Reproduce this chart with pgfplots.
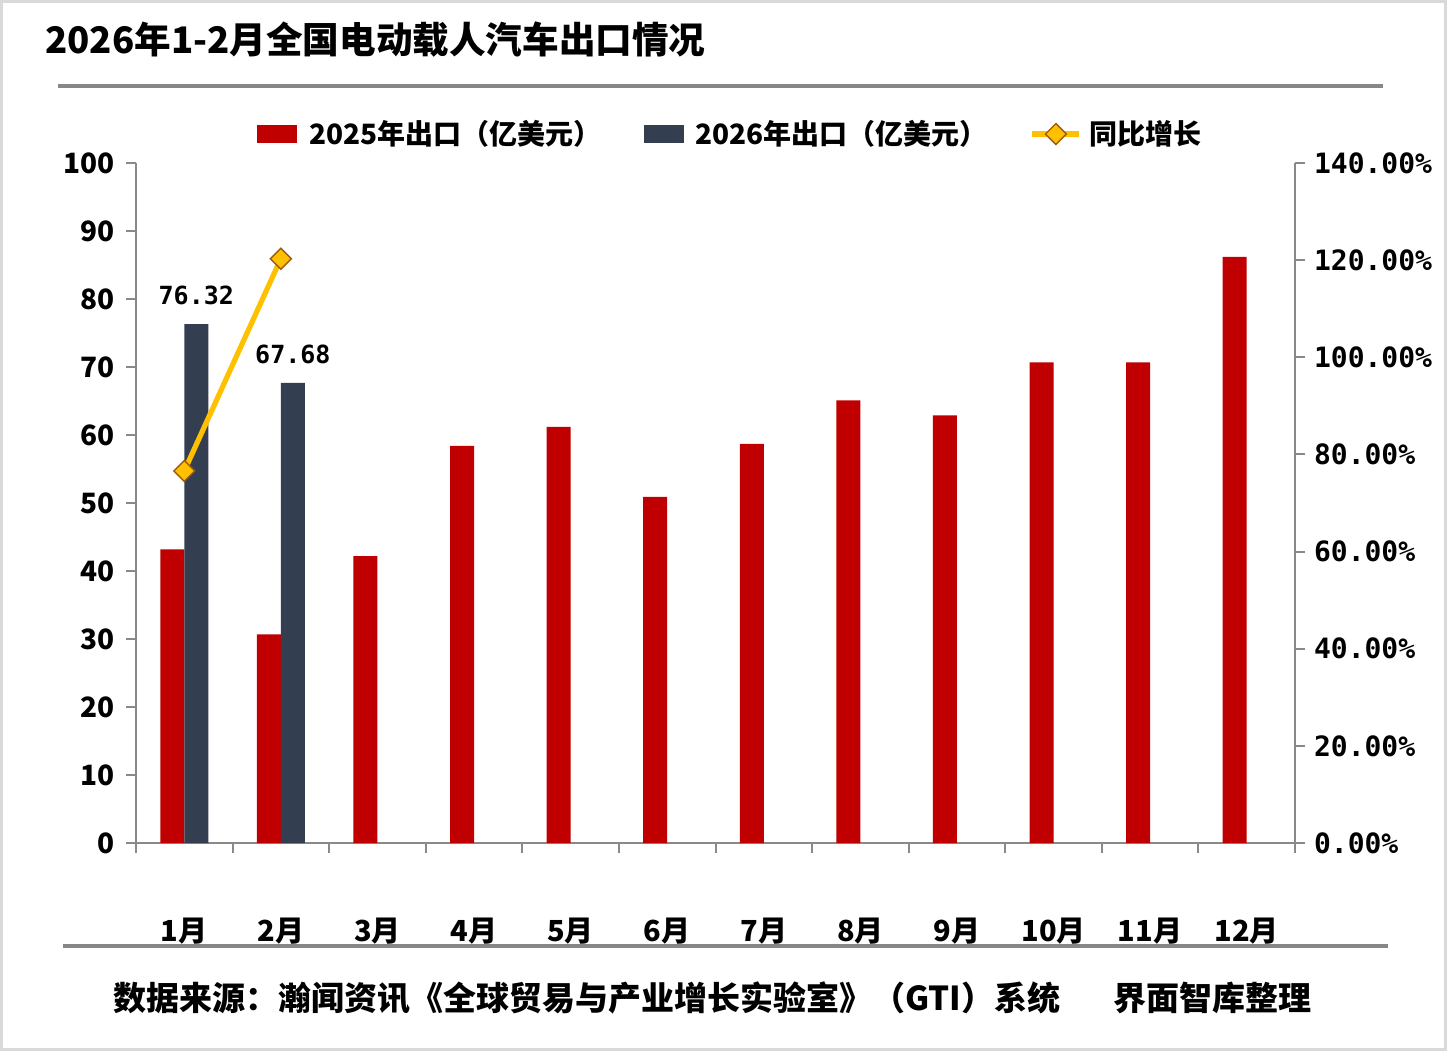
\documentclass[border=0pt]{standalone}
\usepackage{fontspec}
\setmainfont{Noto Sans CJK SC}
\newfontfamily\monofont{DejaVu Sans Mono}
\usepackage{pgfplots}
\usepackage{pgfplotstable}
\pgfplotsset{compat=1.18}

\definecolor{barred}{HTML}{C00000}
\definecolor{barnavy}{HTML}{333F50}
\definecolor{lineyel}{HTML}{FFC000}
\definecolor{mkbrown}{HTML}{9C5A0C}
\definecolor{axgrey}{HTML}{898989}
\definecolor{rulegrey}{HTML}{878787}
\definecolor{framegrey}{HTML}{D9D9D9}

\tikzset{
  yoyline/.style={lineyel, line width=2.6pt, mark=square*, mark size=3.7pt,
    mark options={rotate=45, fill=lineyel, draw=mkbrown, line width=0.7pt}},
}

% 2025 monthly exports (100m USD)
\pgfplotstableread{
m y25
1 43.2
2 30.7
3 42.2
4 58.4
5 61.2
6 50.9
7 58.7
8 65.1
9 62.9
10 70.7
11 70.7
12 86.2
}\expA
% 2026 exports
\pgfplotstableread{
m y26
1 76.32
2 67.68
}\expB
% yoy growth (%)
\pgfplotstableread{
m yoy
1 76.6
2 120.3
}\expYoy

\begin{document}
\begin{tikzpicture}[x=0.5pt,y=-0.5pt]
\path[use as bounding box] (0,0) rectangle (1447,1051);
\draw[framegrey, line width=1.2pt] (1.5,1.5) rectangle (1445.5,1049.5);

\node[anchor=west, inner sep=0pt, font=\fontsize{18.3}{18.3}\selectfont\bfseries]
  at (45,40) {2026年1-2月全国电动载人汽车出口情况};
\draw[rulegrey, line width=2pt] (58,86) -- (1383,86);
\draw[rulegrey, line width=2.2pt] (63,946) -- (1388,946);
\node[anchor=west, inner sep=0pt, font=\fontsize{16.5}{16.5}\selectfont\bfseries]
  at (113,998) {数据来源：瀚闻资讯《全球贸易与产业增长实验室》（GTI）系统};
\node[anchor=west, inner sep=0pt, font=\fontsize{16.5}{16.5}\selectfont\bfseries]
  at (1113,998) {界面智库整理};

\begin{axis}[
  at={(68pt,-421.5pt)}, anchor=south west,
  scale only axis, width=579.5pt, height=340pt,
  xmin=0.5, xmax=12.5, ymin=0, ymax=100,
  axis x line*=bottom, axis y line*=left,
  axis line style={axgrey, line width=1pt, -},
  tick style={axgrey, line width=1pt},
  tick align=outside, major tick length=5pt,
  xtick={0.5,1.5,...,12.5}, xticklabels={},
  extra x ticks={1,2,...,12},
  extra x tick labels={1月,2月,3月,4月,5月,6月,7月,8月,9月,10月,11月,12月},
  extra x tick style={major tick length=0pt,
    tick label style={font=\fontsize{14.5}{14.5}\selectfont\bfseries, yshift=-34pt}},
  ytick={0,10,...,100},
  yticklabel style={font=\fontsize{14}{14}\selectfont\bfseries, xshift=-2pt},
  /pgf/number format/assume math mode=true,
  legend columns=3,
  legend style={draw=none, fill=none, at={(0.1044,1.0426)}, anchor=west,
    inner sep=0pt, font=\fontsize{14}{14}\selectfont\bfseries,
    /tikz/every even column/.append style={column sep=19pt}},
]
\addplot[ybar, bar width=12pt, bar shift=-6pt, fill=barred, draw=none,
  legend image code/.code={\fill[barred] (0pt,-4.5pt) rectangle (20pt,4.5pt); \path (24pt,0pt);}]
  table[x=m, y=y25]{\expA};
\addlegendentry{2025年出口（亿美元）}
\addplot[ybar, bar width=12pt, bar shift=6pt, fill=barnavy, draw=none,
  nodes near coords={\pgfmathprintnumber[fixed,fixed zerofill,precision=2]{\pgfplotspointmeta}},
  every node near coord/.append style={font=\fontsize{12.5}{12.5}\selectfont\monofont\bfseries,
    black, xshift=6pt, yshift=6pt},
  legend image code/.code={\fill[barnavy] (0pt,-4.5pt) rectangle (20pt,4.5pt); \path (24pt,0pt);}]
  table[x=m, y=y26]{\expB};
\addlegendentry{2026年出口（亿美元）}
\addlegendimage{yoyline,
  legend image code/.code={\draw[yoyline, mark repeat=2, mark phase=2]
    plot coordinates {(0pt,0pt) (11.75pt,0pt) (23.5pt,0pt)}; \path (25pt,0pt);}}
\addlegendentry{同比增长}
\end{axis}

\begin{axis}[
  at={(68pt,-421.5pt)}, anchor=south west,
  scale only axis, width=579.5pt, height=340pt,
  xmin=0.5, xmax=12.5, ymin=0, ymax=140,
  axis x line=none, axis y line*=right,
  axis line style={axgrey, line width=1pt, -},
  tick style={axgrey, line width=1pt},
  tick align=outside, major tick length=5pt,
  ytick={0,20,...,140},
  yticklabels={0.00\%,20.00\%,40.00\%,60.00\%,80.00\%,100.00\%,120.00\%,140.00\%},
  yticklabel style={font=\fontsize{14}{14}\selectfont\monofont\bfseries, anchor=west, xshift=1pt},
]
\addplot[yoyline] table[x=m, y=yoy]{\expYoy};
\end{axis}
\end{tikzpicture}
\end{document}
